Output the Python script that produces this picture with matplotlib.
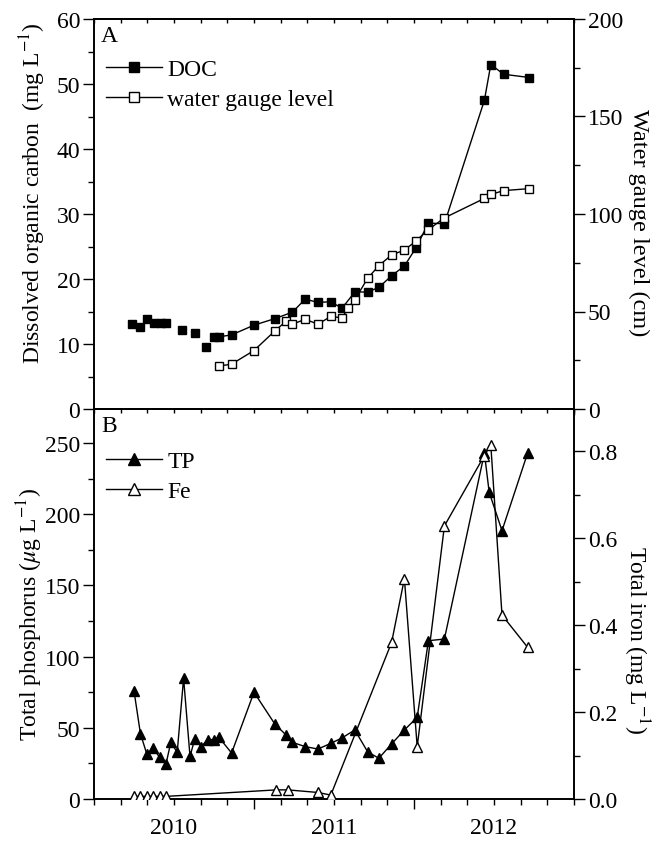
import matplotlib
matplotlib.use("Agg")
import matplotlib.pyplot as plt
from matplotlib.ticker import MultipleLocator, FixedLocator, FuncFormatter

plt.rcParams['font.family'] = ['Liberation Serif', 'DejaVu Serif']
plt.rcParams['mathtext.fontset'] = 'stix'

# ---------------- data (decimal years) ----------------
doc_t = [2009.74, 2009.79, 2009.83, 2009.875, 2009.92, 2009.95, 2010.05, 2010.13,
         2010.20, 2010.25, 2010.28, 2010.36, 2010.50, 2010.63, 2010.74, 2010.82,
         2010.90, 2010.98, 2011.05, 2011.13, 2011.21, 2011.28, 2011.36, 2011.44,
         2011.51, 2011.59, 2011.69, 2011.94, 2011.98, 2012.06, 2012.22]
doc = [13.1, 12.6, 13.8, 13.3, 13.3, 13.2, 12.1, 11.7,
       9.5, 11.1, 11.1, 11.4, 12.9, 13.9, 14.9, 16.9,
       16.4, 16.5, 15.5, 18.0, 18.0, 18.7, 20.5, 22.0,
       24.7, 28.6, 28.5, 47.5, 53.0, 51.5, 51.0]
doc_nl = 9  # first points shown without connecting line

wg_t = [2010.28, 2010.36, 2010.50, 2010.63, 2010.70, 2010.74, 2010.82, 2010.90,
        2010.98, 2011.05, 2011.09, 2011.13, 2011.21, 2011.28, 2011.36, 2011.44,
        2011.51, 2011.59, 2011.69, 2011.94, 2011.98, 2012.06, 2012.22]
wg = [22, 23, 30, 40, 45, 43.5, 46, 43.5,
      47.5, 46.7, 52, 56, 67, 73.5, 79, 81.5,
      86, 92, 98, 108, 110, 112, 113]

tp_t = [2009.75, 2009.79, 2009.83, 2009.87, 2009.91, 2009.95, 2009.98, 2010.02,
        2010.06, 2010.10, 2010.13, 2010.17, 2010.21, 2010.25, 2010.28, 2010.36,
        2010.50, 2010.63, 2010.70, 2010.74, 2010.82, 2010.90, 2010.98, 2011.05,
        2011.13, 2011.21, 2011.28, 2011.36, 2011.44, 2011.52, 2011.59, 2011.69,
        2011.94, 2011.97, 2012.05, 2012.21]
tp = [76, 46, 31.6, 35.6, 29.3, 24.6, 39.8, 32.8,
      84.8, 30, 42.2, 36.8, 41.7, 41.7, 43.4, 32.3,
      75, 52.7, 45, 39.8, 36.8, 35.1, 39.1, 42.9,
      48.5, 33.2, 28.6, 38.7, 48.5, 57.4, 111.2, 112.4,
      243, 215.5, 188.5, 243]

fe_t = [2009.75, 2009.79, 2009.83, 2009.87, 2009.91, 2009.95,
        2010.64, 2010.71, 2010.90, 2010.98, 2011.36, 2011.44, 2011.52,
        2011.69, 2011.94, 2011.98, 2012.05, 2012.21]
fe = [0.006, 0.006, 0.006, 0.006, 0.006, 0.006,
      0.021, 0.021, 0.015, 0.009, 0.36, 0.507, 0.12,
      0.628, 0.79, 0.815, 0.423, 0.349]

year_labels = [2010, 2011, 2012]

# ---------------- figure ----------------
W, H = 657, 845
fig = plt.figure(figsize=(W / 100, H / 100), dpi=100)
L = 94 / W
AW = (574 - 94) / W
AH = 390 / H
ax1 = fig.add_axes([L, (H - 410) / H, AW, AH])
ax2 = fig.add_axes([L, (H - 800) / H, AW, AH])

FS = 17
lw = 1.0


def style_x(ax, labels):
    ax.set_xlim(2009.5, 2012.5)
    ax.xaxis.set_major_locator(FixedLocator([2010.5, 2011.5]))
    ax.xaxis.set_major_formatter(FuncFormatter(lambda v, p: ""))
    ax.xaxis.set_minor_locator(MultipleLocator(1 / 6))
    if labels:
        ax.xaxis.set_minor_formatter(FuncFormatter(
            lambda v, p: (str(int(round(v))) if abs(v - round(v)) < 1e-3
                          and int(round(v)) in year_labels else "")))
    else:
        ax.xaxis.set_minor_formatter(FuncFormatter(lambda v, p: ""))
    ax.tick_params(axis='x', which='major', direction='out', length=7, width=1)
    ax.tick_params(axis='x', which='minor', direction='out', length=4, width=1,
                   labelsize=FS, pad=9)
    sec = ax.secondary_xaxis('top')
    sec.xaxis.set_major_locator(MultipleLocator(1 / 6))
    sec.xaxis.set_major_formatter(FuncFormatter(lambda v, p: ""))
    sec.tick_params(axis='x', direction='in', length=3, width=1)
    sec.spines['top'].set_linewidth(1.2)


def style_y(ax, major, minor, lab_fs=FS):
    ax.yaxis.set_major_locator(MultipleLocator(major))
    ax.yaxis.set_minor_locator(MultipleLocator(minor))
    ax.tick_params(axis='y', which='major', direction='out', length=8, width=1,
                   labelsize=lab_fs, pad=2)
    ax.tick_params(axis='y', which='minor', direction='out', length=4, width=1)


for a in (ax1, ax2):
    for s in a.spines.values():
        s.set_linewidth(1.2)

# ---------- panel A ----------
ax1.plot(doc_t[:doc_nl], doc[:doc_nl], ls='none', marker='s', ms=5.8,
         color='black', zorder=3)
ax1.plot(doc_t[doc_nl:], doc[doc_nl:], '-', marker='s', ms=5.8, lw=lw,
         color='black', zorder=3)
ax1.set_ylim(0, 60)
style_x(ax1, False)
style_y(ax1, 10, 5)
ax1.set_ylabel('Dissolved organic carbon  (mg L$^{-1}$)', fontsize=FS)
ax1.yaxis.set_label_coords(-0.096, 0.555)

ax1r = ax1.twinx()
ax1r.plot(wg_t, wg, '-', marker='s', ms=5.8, lw=lw, color='black',
          markerfacecolor='white', zorder=3)
ax1r.set_ylim(0, 200)
ax1r.yaxis.set_major_locator(MultipleLocator(50))
ax1r.yaxis.set_minor_locator(MultipleLocator(25))
ax1r.tick_params(axis='y', which='major', direction='out', length=8, width=1,
                 labelsize=FS, pad=2)
ax1r.tick_params(axis='y', which='minor', direction='out', length=4, width=1)
ax1r.set_ylabel('Water gauge level (cm)', fontsize=17.5, rotation=270)
ax1r.yaxis.set_label_coords(1.157, 0.48)
for s in ax1r.spines.values():
    s.set_linewidth(1.2)

h1, = ax1.plot([], [], '-', marker='s', ms=7, lw=lw, color='black')
h2, = ax1.plot([], [], '-', marker='s', ms=7, lw=lw, color='black',
               markerfacecolor='white')
ax1.legend([h1, h2], ['DOC', 'water gauge level'], loc='upper left',
           bbox_to_anchor=(-0.005, 0.935), frameon=False, fontsize=FS,
           handlelength=2.4, handletextpad=0.2, labelspacing=0.35,
           borderaxespad=0.2)
ax1.text(0.015, 0.985, 'A', transform=ax1.transAxes, fontsize=FS,
         ha='left', va='top')

# ---------- panel B ----------
ax2.plot(tp_t, tp, '-', marker='^', ms=7, lw=lw, color='black', zorder=3)
ax2.set_ylim(0, 274)
style_x(ax2, True)
style_y(ax2, 50, 25)
ax2.set_ylabel('Total phosphorus ($\\mu$g L$^{-1}$)', fontsize=FS)
ax2.yaxis.set_label_coords(-0.103, 0.475)

ax2r = ax2.twinx()
ax2r.plot(fe_t, fe, '-', marker='^', ms=7, lw=lw, color='black',
          markerfacecolor='white', zorder=3)
ax2r.set_ylim(0, 0.897)
ax2r.yaxis.set_major_locator(MultipleLocator(0.2))
ax2r.yaxis.set_minor_locator(MultipleLocator(0.1))
ax2r.yaxis.set_major_formatter(FuncFormatter(lambda v, p: f"{v:.1f}"))
ax2r.tick_params(axis='y', which='major', direction='out', length=8, width=1,
                 labelsize=FS, pad=2)
ax2r.tick_params(axis='y', which='minor', direction='out', length=4, width=1)
ax2r.set_ylabel('Total iron (mg L$^{-1}$)', fontsize=FS, rotation=270)
ax2r.yaxis.set_label_coords(1.162, 0.41)
for s in ax2r.spines.values():
    s.set_linewidth(1.2)

h3, = ax2.plot([], [], '-', marker='^', ms=9, lw=lw, color='black')
h4, = ax2.plot([], [], '-', marker='^', ms=9, lw=lw, color='black',
               markerfacecolor='white')
ax2.legend([h3, h4], ['TP', 'Fe'], loc='upper left',
           bbox_to_anchor=(-0.005, 0.93), frameon=False, fontsize=FS,
           handlelength=2.4, handletextpad=0.2, labelspacing=0.35,
           borderaxespad=0.2)
ax2.text(0.015, 0.985, 'B', transform=ax2.transAxes, fontsize=FS,
         ha='left', va='top')

fig.savefig('out.png', dpi=100)
